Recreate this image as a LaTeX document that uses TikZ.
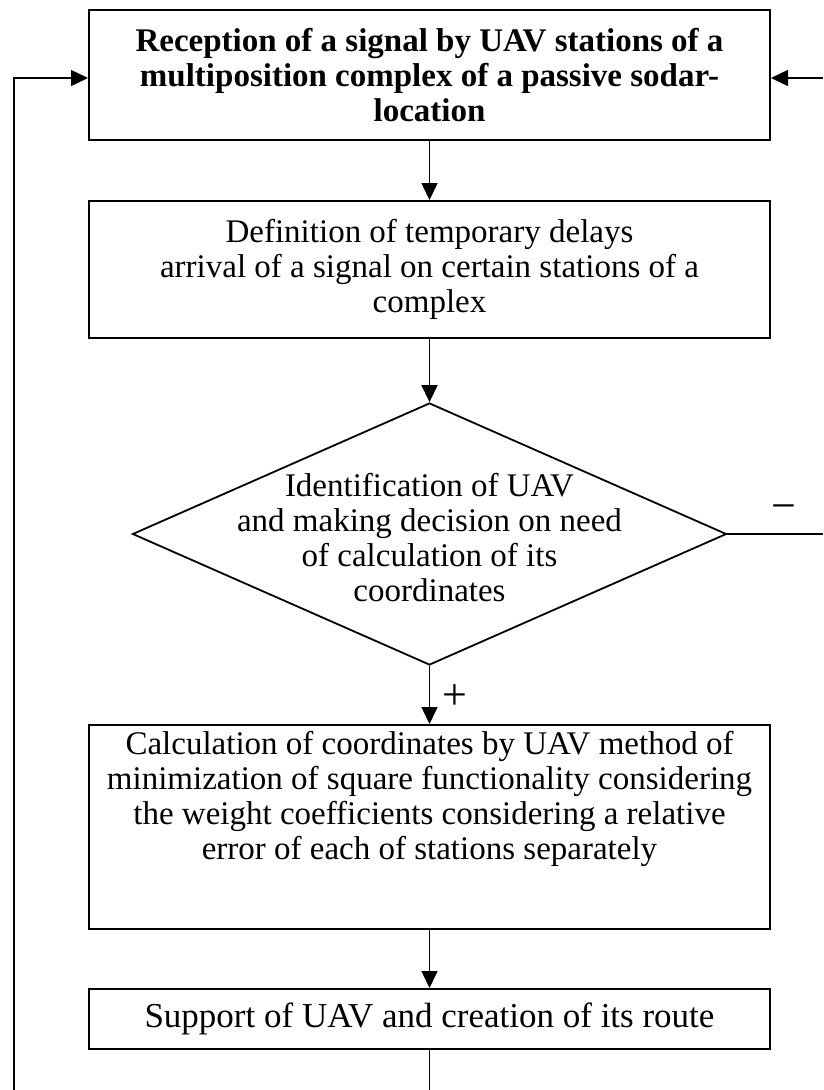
\documentclass[tikz,border=0pt]{standalone}
\usepackage{fontspec}
\setmainfont{Liberation Serif}
\usetikzlibrary{shapes.geometric,arrows.meta,calc}

\begin{document}
\begin{tikzpicture}[x=1pt,y=-1pt,
  every node/.style={font=\fontsize{33}{35}\selectfont},
  stepbox/.style={draw,line width=2pt,minimum width=681pt,inner sep=0pt,align=center},
  decision/.style={draw,diamond,line width=1.8pt,minimum width=594pt,minimum height=262pt,inner sep=0pt},
  txt/.style={align=center,inner sep=0pt},
  sign/.style={inner sep=0pt,font=\fontsize{44}{44}\selectfont},
  link/.style={line width=1.5pt},
  arr/.style={link,-{Triangle[length=17pt,width=16pt]}}]
  \useasboundingbox (0,0) rectangle (823,1090);

  % process blocks
  \node[stepbox,minimum height=130pt] (b1) at (429.5,75)
    {\bfseries Reception of a signal by UAV stations of a\\
     \bfseries multiposition complex of a passive sodar-\\
     \bfseries location};
  \node[stepbox,minimum height=137pt] (b2) at (429.5,269.5)
    {Definition of temporary delays\\
     arrival of a signal on certain stations of a\\
     complex};
  \node[decision] (d) at (429.5,534) {};
  \node[txt] (dt) at (429.5,538)
    {Identification of UAV\\
     and making decision on need\\
     of calculation of its\\
     coordinates};
  \node[stepbox,minimum height=204pt] (b4) at (429.5,827) {};
  \node[txt] (b4t) at (429.5,799)
    {Calculation of coordinates by UAV method of\\
     minimization of square functionality considering\\
     the weight coefficients considering a relative\\
     error of each of stations separately};
  \node[stepbox,minimum height=60pt,font=\fontsize{35}{37}\selectfont] (b5) at (429.5,1019)
    {Support of UAV and creation of its route};

  % main flow
  \draw[arr] (b1.south) -- (b2.north);
  \draw[arr] (b2.south) -- (d.north);
  \draw[arr] (d.south) -- (b4.north);
  \draw[arr] (b4.south) -- (b5.north);

  % branch signs
  \node[sign] (plus) at (455,697) {+};
  \node[sign] (minus) at (784,513) {−};

  % return paths
  \coordinate (lb) at (14,1090);
  \coordinate (bb) at (429.5,1090);
  \coordinate (rt) at (823,78);
  \coordinate (rm) at (823,534);
  \draw[arr] (lb) |- ([yshift=-3pt]b1.west);
  \draw[link] (b5.south) -- (bb);
  \draw[arr] (rt) -- (b1.east |- rt);
  \draw[link] (d.east) -- (rm);
\end{tikzpicture}
\end{document}
